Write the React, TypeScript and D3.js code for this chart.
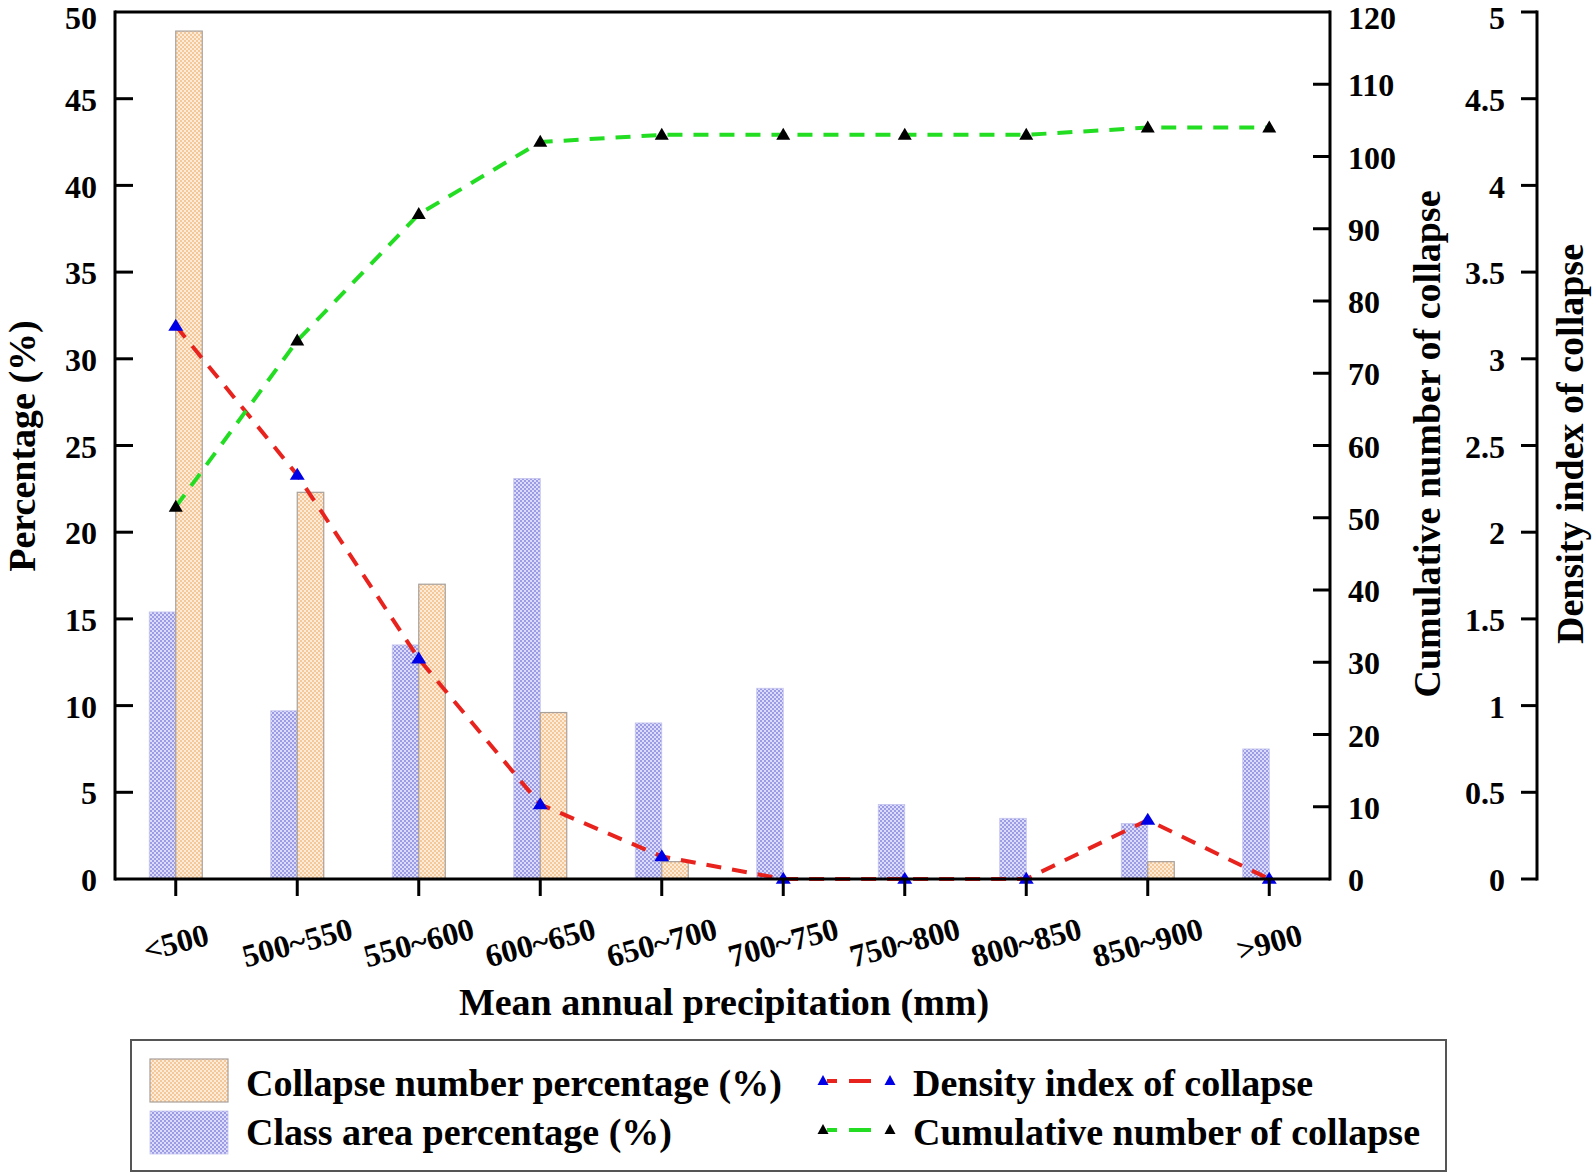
import React from 'react';
import * as d3 from 'd3';

const categories = ['<500', '500~550', '550~600', '600~650', '650~700', '700~750', '750~800', '800~850', '850~900', '>900'];
const collapsePct = [48.9, 22.3, 17.0, 9.6, 1.0, 0, 0, 0, 1.0, 0];
const areaPct = [15.4, 9.7, 13.5, 23.1, 9.0, 11.0, 4.3, 3.5, 3.2, 7.5];
const densityIdx = [3.19, 2.33, 1.27, 0.43, 0.13, 0, 0, 0, 0.34, 0];
const cumulative = [51.5, 74.5, 92, 102, 103, 103, 103, 103, 104, 104];
const pctTicks = [0, 5, 10, 15, 20, 25, 30, 35, 40, 45, 50];
const cumTicks = [0, 10, 20, 30, 40, 50, 60, 70, 80, 90, 100, 110, 120];
const densTicks = [0, 0.5, 1, 1.5, 2, 2.5, 3, 3.5, 4, 4.5, 5];

const W = 1594, H = 1173;
const L = 115, R = 1330, T = 12, B = 879, R2 = 1537;
const FONT = '"Liberation Serif", "Times New Roman", serif';

const triPath = (cx: number, cy: number, w: number, h: number) =>
  `M${cx},${cy - h * 0.6}L${cx + w / 2},${cy + h * 0.4}L${cx - w / 2},${cy + h * 0.4}Z`;

export default function App() {
  const x = d3.scaleBand<string>().domain(categories).range([L, R]).padding(0);
  const cx = (c: string) => (x(c) as number) + x.bandwidth() / 2;
  const yP = d3.scaleLinear().domain([0, 50]).range([B, T]);
  const yC = d3.scaleLinear().domain([0, 120]).range([B, T]);
  const yD = d3.scaleLinear().domain([0, 5]).range([B, T]);
  const bw = 26.5;

  const densLine = d3.line<number>().x((_, i) => cx(categories[i])).y((d) => yD(d));
  const cumLine = d3.line<number>().x((_, i) => cx(categories[i])).y((d) => yC(d));

  const tickFont = 32;
  const titleFont = 38;
  const tdy = (y: number) => (y < T + 5 ? '0.54em' : '0.38em');

  return (
    <svg width={W} height={H} style={{ position: 'absolute', left: 0, top: 0, background: '#fff' }} fontFamily={FONT} fontWeight="bold">
      <defs>
        <pattern id="pOrange" width="4" height="4" patternUnits="userSpaceOnUse">
          <rect width="4" height="4" fill="#fcebd9" />
          <rect width="2" height="2" fill="#f4c899" />
          <rect x="2" y="2" width="2" height="2" fill="#f4c899" />
        </pattern>
        <pattern id="pBlue" width="4" height="4" patternUnits="userSpaceOnUse">
          <rect width="4" height="4" fill="#dcdcf8" />
          <rect width="2" height="2" fill="#9c9ce6" />
          <rect x="2" y="2" width="2" height="2" fill="#9c9ce6" />
        </pattern>
      </defs>
      <rect width={W} height={H} fill="#fff" />

      {/* bars */}
      {categories.map((c, i) => (
        <rect key={'b' + c} x={cx(c) - bw} y={yP(areaPct[i])} width={bw} height={B - yP(areaPct[i])} fill="url(#pBlue)" stroke="#c4c4ee" strokeWidth={0.8} />
      ))}
      {categories.map((c, i) =>
        collapsePct[i] > 0 ? (
          <rect key={'o' + c} x={cx(c)} y={yP(collapsePct[i])} width={bw} height={B - yP(collapsePct[i])} fill="url(#pOrange)" stroke="#a8a09a" strokeWidth={1.2} />
        ) : null
      )}

      {/* lines */}
      <path d={densLine(densityIdx) as string} fill="none" stroke="#e8231e" strokeWidth={4} strokeDasharray="15 11" />
      <path d={cumLine(cumulative) as string} fill="none" stroke="#22dd22" strokeWidth={4} strokeDasharray="15 11" />
      {categories.map((c, i) => (
        <path key={'dt' + c} d={triPath(cx(c), yD(densityIdx[i]), 15, 12)} fill="#0000e6" />
      ))}
      {categories.map((c, i) => (
        <path key={'ct' + c} d={triPath(cx(c), yC(cumulative[i]), 14, 12)} fill="#000" />
      ))}

      {/* frame & axes */}
      <line x1={L} x2={R} y1={T} y2={T} stroke="#000" strokeWidth={3} />
      <line x1={L} x2={R} y1={B} y2={B} stroke="#000" strokeWidth={3} />
      <line x1={L} x2={L} y1={T - 1.5} y2={B + 1.5} stroke="#000" strokeWidth={3} />
      <line x1={R} x2={R} y1={T - 1.5} y2={B + 1.5} stroke="#000" strokeWidth={3} />
      <line x1={R2} x2={R2} y1={T - 1.5} y2={B + 1.5} stroke="#000" strokeWidth={3} />

      {/* left axis */}
      {pctTicks.map((t) => (
        <g key={'pt' + t}>
          {t > 0 && t < 50 && <line x1={L} x2={L + 18} y1={yP(t)} y2={yP(t)} stroke="#000" strokeWidth={3} />}
          <text x={97} y={yP(t)} dy={tdy(yP(t))} textAnchor="end" fontSize={tickFont}>{t}</text>
        </g>
      ))}
      {/* cumulative axis */}
      {cumTicks.map((t) => (
        <g key={'ct' + t}>
          {t > 0 && t < 120 && <line x1={R - 17} x2={R} y1={yC(t)} y2={yC(t)} stroke="#000" strokeWidth={3} />}
          <text x={1348} y={yC(t)} dy={tdy(yC(t))} textAnchor="start" fontSize={tickFont}>{t}</text>
        </g>
      ))}
      {/* density axis */}
      {densTicks.map((t) => (
        <g key={'dtk' + t}>
          <line x1={R2 - 16} x2={R2} y1={yD(t)} y2={yD(t)} stroke="#000" strokeWidth={3} />
          <text x={1505} y={yD(t)} dy={tdy(yD(t))} textAnchor="end" fontSize={tickFont}>{t}</text>
        </g>
      ))}
      {/* x ticks */}
      {categories.map((c) => (
        <g key={'xt' + c}>
          <line x1={cx(c)} x2={cx(c)} y1={B} y2={B + 17} stroke="#000" strokeWidth={3} />
          <text transform={`translate(${cx(c)},${942}) rotate(-15)`} textAnchor="middle" dy="0.35em" fontSize={tickFont}>{c}</text>
        </g>
      ))}

      {/* titles */}
      <text x={724} y={1015} textAnchor="middle" fontSize={titleFont}>Mean annual precipitation (mm)</text>
      <text transform={`translate(35,${446}) rotate(-90)`} textAnchor="middle" fontSize={titleFont}>Percentage (%)</text>
      <text transform={`translate(1440,${444}) rotate(-90)`} textAnchor="middle" fontSize={titleFont}>Cumulative number of collapse</text>
      <text transform={`translate(1583,${444}) rotate(-90)`} textAnchor="middle" fontSize={titleFont}>Density index of collapse</text>

      {/* legend */}
      <rect x={131} y={1040} width={1315} height={131} fill="#fff" stroke="#555" strokeWidth={2} />
      <rect x={150} y={1059} width={78} height={43} fill="url(#pOrange)" stroke="#a8a09a" strokeWidth={1.2} />
      <rect x={150} y={1111} width={78} height={43} fill="url(#pBlue)" stroke="#c4c4ee" strokeWidth={0.8} />
      <text x={246} y={1083} dy="0.35em" fontSize={titleFont}>Collapse number percentage (%)</text>
      <text x={246} y={1132} dy="0.35em" fontSize={titleFont}>Class area percentage (%)</text>

      <line x1={823} x2={890} y1={1081} y2={1081} stroke="#e8231e" strokeWidth={4} strokeDasharray="10 12 22 30" strokeDashoffset={-4} />
      <path d={triPath(823, 1081, 11, 10)} fill="#0000e6" />
      <path d={triPath(890, 1081, 11, 10)} fill="#0000e6" />
      <text x={913} y={1083} dy="0.35em" fontSize={titleFont}>Density index of collapse</text>

      <line x1={823} x2={890} y1={1130} y2={1130} stroke="#22dd22" strokeWidth={4} strokeDasharray="10 12 22 30" strokeDashoffset={-4} />
      <path d={triPath(823, 1130, 11, 10)} fill="#000" />
      <path d={triPath(890, 1130, 11, 10)} fill="#000" />
      <text x={913} y={1132} dy="0.35em" fontSize={titleFont}>Cumulative number of collapse</text>
    </svg>
  );
}
